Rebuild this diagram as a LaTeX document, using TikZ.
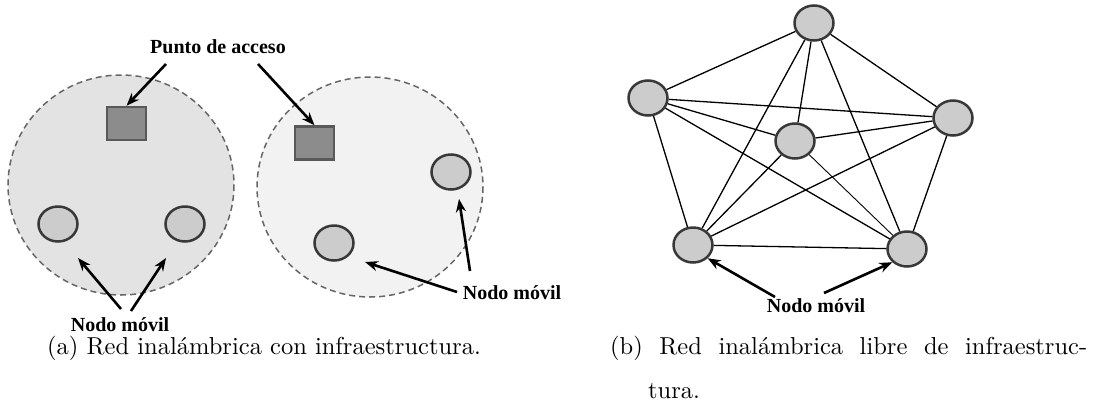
\documentclass[tikz,border=0pt]{standalone}
\usepackage{fontspec}
\newfontfamily\lblfont{Liberation Serif}
\newfontfamily\capfont{lmroman10-regular.otf}
\usetikzlibrary{arrows.meta,shapes.geometric}
\tikzset{
  cell/.style={ellipse, draw=black!78, line width=2.5pt, fill=black!20,
    minimum width=39pt, minimum height=35pt, inner sep=0pt},
  apbox/.style={draw=black!65, line width=2.5pt, fill=black!45,
    minimum width=39pt, minimum height=33pt, inner sep=0pt},
  zone/.style={draw=black!60, line width=1.5pt, dash pattern=on 6pt off 4pt},
  pointer/.style={line width=2.6pt, -{Stealth[length=13pt,width=10pt]}},
  link/.style={line width=1.3pt},
  tag/.style={font=\lblfont\bfseries\fontsize{20}{24}\selectfont, inner sep=0pt},
  capt/.style={font=\capfont\fontsize{24.5}{29}\selectfont, inner sep=0pt, anchor=base west}
}
\begin{document}
\begin{tikzpicture}[x=1pt, y=-1pt]
\useasboundingbox (0,0) rectangle (1100,413);

% ---- (a) infrastructure network: two coverage areas
\fill[black!11] (121,185) ellipse [x radius=113, y radius=110];
\draw[zone] (121,185) ellipse [x radius=113, y radius=110];
\fill[black!5] (370,187) ellipse [x radius=113, y radius=110];
\draw[zone] (370,187) ellipse [x radius=113, y radius=110];

\node[apbox] (ap1) at (126.5,123.5) {};
\node[apbox] (ap2) at (314.5,143) {};

\node[cell] (m1) at (58,224) {};
\node[cell] (m2) at (185,224) {};
\node[cell] (m3) at (451,172) {};
\node[cell] (m4) at (334,243) {};

\node[tag] (pa) at (218,47) {Punto de acceso};
\node[tag] (nmA) at (120,325) {Nodo móvil};
\node[tag] (nmB) at (512,293) {Nodo móvil};

\coordinate (pa1) at (166,64);
\coordinate (pa2) at (258,64);
\draw[pointer] (pa1) -- (ap1.north);
\draw[pointer] (pa2) -- (ap2.north);

\coordinate (a1s) at (121,309);
\coordinate (a1e) at (78,258);
\coordinate (a2s) at (131,311);
\coordinate (a2e) at (166,258);
\draw[pointer] (a1s) -- (a1e);
\draw[pointer] (a2s) -- (a2e);

\coordinate (b1s) at (457,292);
\coordinate (b1e) at (365,262);
\coordinate (b2s) at (470,271);
\coordinate (b2e) at (459,199);
\draw[pointer] (b1s) -- (b1e);
\draw[pointer] (b2s) -- (b2e);

% ---- (b) ad hoc network: complete graph on six nodes
\node[cell] (T)  at (814,23) {};
\node[cell] (L)  at (648,98) {};
\node[cell] (C)  at (795,141) {};
\node[cell] (R)  at (953,118) {};
\node[cell] (BL) at (693,245) {};
\node[cell] (BR) at (907,249) {};

\draw[link] (T) -- (L);
\draw[link] (T) -- (R);
\draw[link] (T) -- (C);
\draw[link] (T) -- (BL);
\draw[link] (T) -- (BR);
\draw[link] (L) -- (R);
\draw[link] (L) -- (C);
\draw[link] (L) -- (BL);
\draw[link] (L) -- (BR);
\draw[link] (C) -- (R);
\draw[link] (C) -- (BL);
\draw[line width=0.9pt] (C) -- (BR);
\draw[link] (R) -- (BL);
\draw[link] (R) -- (BR);
\draw[link] (BL) -- (BR);

\node[tag] (nmC) at (816,306) {Nodo móvil};
\coordinate (c1s) at (775,297);
\coordinate (c2s) at (824,293);
\draw[pointer] (c1s) -- (BL.south east);
\draw[pointer] (c2s) -- (BR.south west);

% ---- captions
\node[capt] (capA) at (47,354) {(a) Red inalámbrica con infraestructura.};
\node[capt] (capB) at (610,354) {\makebox[477pt][s]{(b) Red inalámbrica libre de infraestruc-}};
\node[capt] (capB2) at (648,398) {tura.};
\end{tikzpicture}
\end{document}
